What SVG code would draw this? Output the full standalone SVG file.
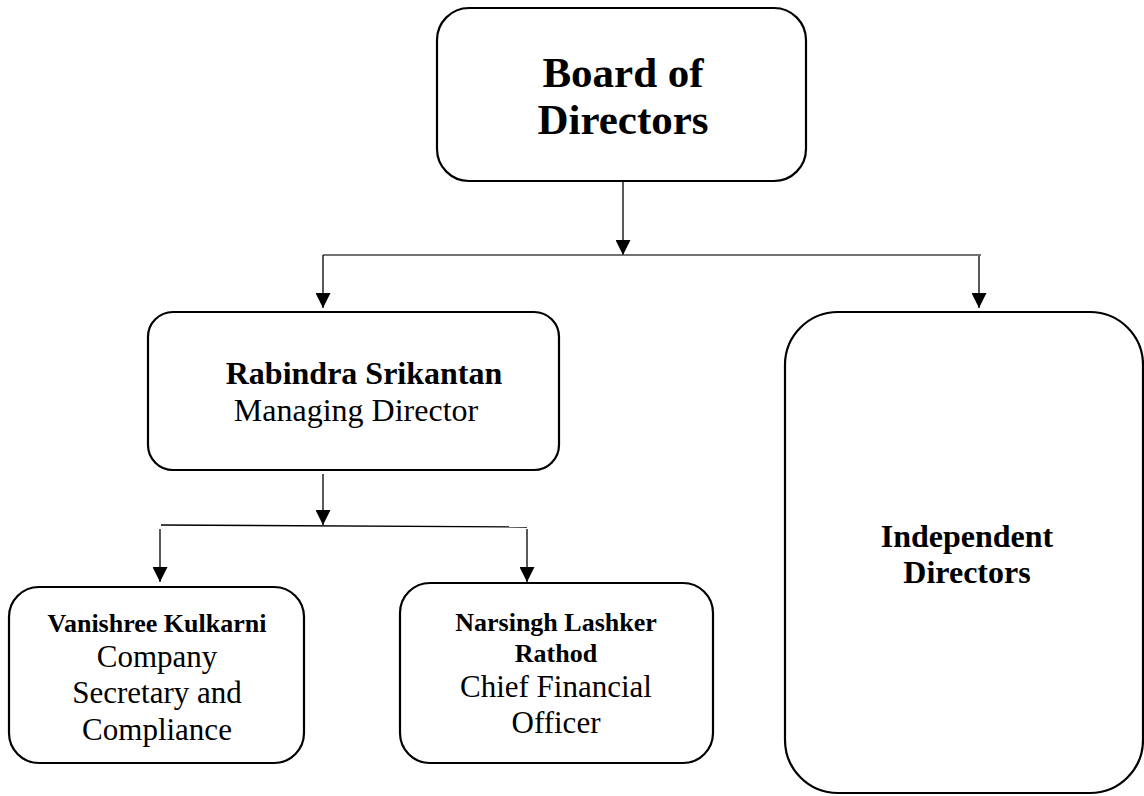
<svg xmlns="http://www.w3.org/2000/svg" width="1144" height="796" viewBox="0 0 1144 796">
<defs>
<marker id="arr" markerWidth="16" markerHeight="15" refX="16" refY="8" orient="auto" markerUnits="userSpaceOnUse" viewBox="0 0 16 16">
<path d="M0,0 L16,8 L0,16 Z" fill="#000"/>
</marker>
<style>
.box{fill:#fff;stroke:#000;stroke-width:2.2}
.ln{fill:none;stroke:#000;stroke-width:1.3}
.hl{fill:none;stroke:#444;stroke-width:1.6}
text{font-family:"Liberation Serif","Times New Roman",serif;fill:#000;text-anchor:middle}
.b{font-weight:bold}
</style>
</defs>
<rect width="1144" height="796" fill="#fff"/>
<g id="connectors">
<line class="ln" x1="623" y1="181" x2="623" y2="255" marker-end="url(#arr)"/>
<line class="hl" x1="323" y1="255" x2="981" y2="255"/>
<line class="ln" x1="323" y1="255" x2="323" y2="308" marker-end="url(#arr)"/>
<line class="ln" x1="979" y1="256" x2="979" y2="308" marker-end="url(#arr)"/>
<line class="ln" x1="323" y1="474" x2="323" y2="525" marker-end="url(#arr)"/>
<line class="ln" x1="161" y1="525" x2="527" y2="527"/>
<line class="ln" x1="160" y1="529" x2="160" y2="582" marker-end="url(#arr)"/>
<line class="ln" x1="527" y1="529" x2="527" y2="582" marker-end="url(#arr)"/>
</g>
<g id="board">
<rect class="box" x="437" y="8" width="369" height="173" rx="32"/>
<text class="b" x="623" y="87" font-size="43">Board of</text>
<text class="b" x="623" y="134" font-size="43">Directors</text>
</g>
<g id="md">
<rect class="box" x="148" y="312" width="411" height="158" rx="25"/>
<text class="b" x="364" y="384" font-size="32">Rabindra Srikantan</text>
<text x="356" y="421" font-size="32">Managing Director</text>
</g>
<g id="independent">
<rect class="box" x="785" y="312" width="358" height="481" rx="53"/>
<text class="b" x="967" y="547" font-size="32">Independent</text>
<text class="b" x="967" y="583" font-size="32">Directors</text>
</g>
<g id="cs">
<rect class="box" x="9" y="587" width="295" height="176" rx="30"/>
<text class="b" x="157" y="632" font-size="26">Vanishree Kulkarni</text>
<text x="157" y="667" font-size="31">Company</text>
<text x="157" y="703" font-size="31">Secretary and</text>
<text x="157" y="740" font-size="31">Compliance</text>
</g>
<g id="cfo">
<rect class="box" x="400" y="583" width="313" height="180" rx="30"/>
<text class="b" x="556" y="631" font-size="26">Narsingh Lashker</text>
<text class="b" x="556" y="662" font-size="26">Rathod</text>
<text x="556" y="697" font-size="31">Chief Financial</text>
<text x="556" y="733" font-size="31">Officer</text>
</g>
</svg>
